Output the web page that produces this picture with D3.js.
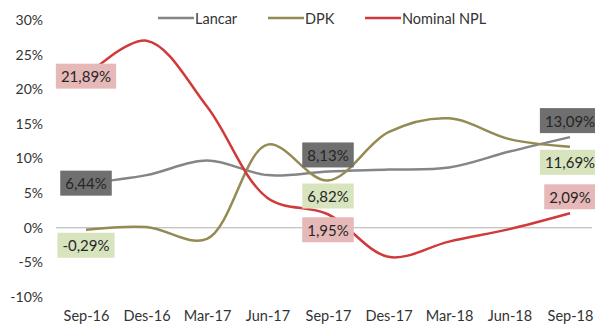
<!DOCTYPE html>
<html>
<head>
<meta charset="utf-8">
<script src="https://cdn.jsdelivr.net/npm/d3@7"></script>
<style>
  html, body { margin: 0; padding: 0; background: #fff; }
  svg { display: block; font-family: Lato, "Open Sans", sans-serif; }
</style>
</head>
<body>
<svg id="chart" width="595" height="330"></svg>
<script>
// Quarterly growth (%), Sep-16 .. Sep-18
const categories = ["Sep-16", "Des-16", "Mar-17", "Jun-17", "Sep-17", "Des-17", "Mar-18", "Jun-18", "Sep-18"];
const lancar = [6.44, 7.6, 9.7, 7.6, 8.13, 8.4, 8.7, 11.0, 13.09];
const dpk = [-0.29, 0.1, -1.6, 12.0, 6.82, 13.8, 15.8, 12.8, 11.69];
const npl = [21.89, 27.0, 17.5, 4.3, 1.95, -4.2, -2.0, -0.2, 2.09];
const yTicks = [-10, -5, 0, 5, 10, 15, 20, 25, 30];
const seriesNames = ["Lancar", "DPK", "Nominal NPL"];

const colors = { "Lancar": "#858585", "DPK": "#948a54", "Nominal NPL": "#d03a3a" };
const labelFill = { "Lancar": "#6f6f6f", "DPK": "#d7e4bd", "Nominal NPL": "#e6b9b8" };

const svg = d3.select("#chart");
const x = d3.scalePoint().domain(categories).range([86, 570]);
const y = d3.scaleLinear().domain([-10, 30]).range([297, 20]);

// y axis labels
const yAxis = d3.axisLeft(y).tickValues(yTicks).tickFormat(d => d + "%").tickSize(0).tickPadding(0);
const gy = svg.append("g").attr("transform", "translate(43,0)").call(yAxis);
gy.select(".domain").remove();
gy.selectAll("text").attr("font-size", 14).attr("fill", "#333").attr("font-family", "Lato, sans-serif");

// x axis labels
const xAxis = d3.axisBottom(x).tickSize(0).tickPadding(0);
const gx = svg.append("g").attr("transform", "translate(0,311)").call(xAxis);
gx.select(".domain").remove();
gx.selectAll("text").attr("font-size", 14.5).attr("fill", "#333").attr("font-family", "Lato, sans-serif");

// zero line
svg.append("line")
  .attr("x1", 56).attr("x2", 592)
  .attr("y1", y(0)).attr("y2", y(0))
  .attr("stroke", "#b0b0b0").attr("stroke-width", 1);

const series = [
  { name: "Lancar", values: lancar },
  { name: "DPK", values: dpk },
  { name: "Nominal NPL", values: npl }
];

const line = d3.line()
  .x((d, i) => x(categories[i]))
  .y(d => y(d))
  .curve(d3.curveCatmullRom.alpha(0.5));

svg.append("g").selectAll("path")
  .data(series)
  .join("path")
  .attr("d", s => line(s.values))
  .attr("fill", "none")
  .attr("stroke", s => colors[s.name])
  .attr("stroke-width", 2.5);

// data labels: [series, index, vertical placement]
const labels = [
  ["Lancar", 0, "center"], ["Lancar", 4, "above"], ["Lancar", 8, "above"],
  ["DPK", 0, "below"], ["DPK", 4, "below"], ["DPK", 8, "below"],
  ["Nominal NPL", 0, "center"], ["Nominal NPL", 4, "below"], ["Nominal NPL", 8, "above"]
];
const fmt = v => v.toFixed(2).replace(".", ",") + "%";
const lg = svg.append("g");
labels.forEach(([name, i, pos]) => {
  const s = series.find(d => d.name === name);
  const v = s.values[i];
  const cx = x(categories[i]);
  const py = y(v);
  const h = 25;
  let cy = py;
  if (pos === "above") cy = py - 4 - h / 2;
  if (pos === "below") cy = py + 3 + h / 2;
  const g = lg.append("g");
  const t = g.append("text")
    .attr("x", cx).attr("y", cy)
    .attr("text-anchor", "middle").attr("dominant-baseline", "central")
    .attr("font-size", 15).attr("fill", "#262626")
    .text(fmt(v));
  const w = t.node().getComputedTextLength() + 10;
  g.insert("rect", "text")
    .attr("x", cx - w / 2).attr("y", cy - h / 2)
    .attr("width", w).attr("height", h)
    .attr("fill", labelFill[name]);
});

// legend
const legendPos = [158, 268, 365];
const lgd = svg.append("g");
series.forEach((s, k) => {
  const lx = legendPos[k];
  lgd.append("line")
    .attr("x1", lx).attr("x2", lx + 36)
    .attr("y1", 18).attr("y2", 18)
    .attr("stroke", colors[s.name]).attr("stroke-width", 2.5);
  lgd.append("text")
    .attr("x", lx + 37).attr("y", 18)
    .attr("dominant-baseline", "central")
    .attr("font-size", 14.5).attr("fill", "#333")
    .text(s.name);
});
</script>
</body>
</html>
